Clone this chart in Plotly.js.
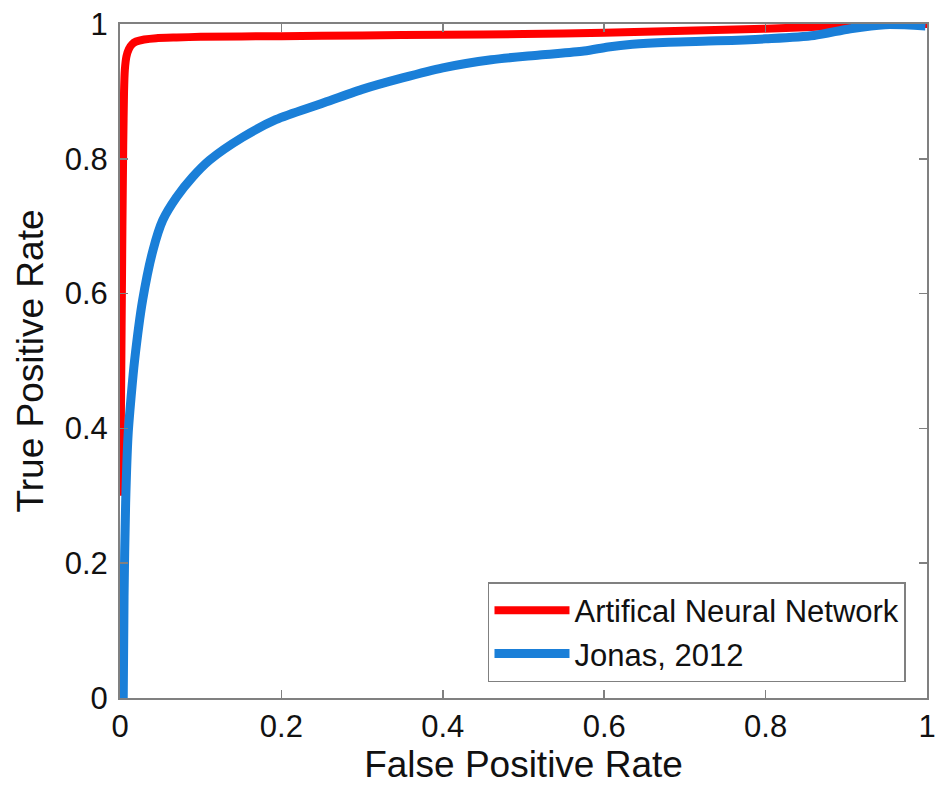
<!DOCTYPE html>
<html>
<head>
<meta charset="utf-8">
<script src="https://cdn.plot.ly/plotly-3.0.1.min.js"></script>
<style>html,body{margin:0;padding:0;background:#fff;}#chart{width:938px;height:801px;}</style>
</head>
<body>
<div id="chart"></div>
<script>
// Artificial Neural Network ROC curve
const annFPR = [0, 0.001, 0.002, 0.003, 0.004, 0.005, 0.006, 0.008, 0.011, 0.015, 0.02, 0.03, 0.045, 0.07, 0.1, 0.2, 0.3, 0.4, 0.5, 0.6, 0.7, 0.8, 0.85, 0.9, 0.95, 1];
const annTPR = [0.30, 0.40, 0.55, 0.70, 0.82, 0.90, 0.932, 0.952, 0.963, 0.970, 0.974, 0.977, 0.979, 0.980, 0.981, 0.982, 0.983, 0.984, 0.985, 0.987, 0.990, 0.993, 0.995, 0.998, 1.0, 1.0];
// Jonas, 2012 ROC curve
const jonasFPR = [0.004, 0.005, 0.007, 0.010, 0.014, 0.018, 0.028, 0.041, 0.053, 0.070, 0.090, 0.111, 0.152, 0.193, 0.25, 0.30, 0.35, 0.40, 0.46, 0.52, 0.575, 0.605, 0.635, 0.68, 0.74, 0.80, 0.86, 0.905, 0.948, 0.998];
const jonasTPR = [0, 0.15, 0.29, 0.39, 0.45, 0.50, 0.59, 0.665, 0.709, 0.743, 0.773, 0.798, 0.832, 0.858, 0.882, 0.903, 0.920, 0.935, 0.947, 0.954, 0.960, 0.966, 0.970, 0.973, 0.975, 0.978, 0.983, 0.993, 0.999, 0.997];
const tickVals = [0, 0.2, 0.4, 0.6, 0.8, 1];
const tickText = ['0', '0.2', '0.4', '0.6', '0.8', '1'];
const seriesNames = ['Artifical Neural Network', 'Jonas, 2012'];

const font = 'Liberation Sans, Arial, sans-serif';
const axisCommon = {
  range: [0, 1],
  tickvals: tickVals,
  ticktext: tickText,
  ticks: 'inside',
  ticklen: 8,
  tickwidth: 1.5,
  tickcolor: '#808080',
  showline: true,
  linecolor: '#808080',
  linewidth: 2,
  mirror: 'ticks',
  showgrid: false,
  zeroline: false,
  ticklabeloverflow: 'allow',
  tickfont: {family: font, size: 31, color: '#111'},
  automargin: false,
  fixedrange: true
};

const data = [
  {x: annFPR, y: annTPR, name: seriesNames[0], mode: 'lines', type: 'scatter',
   line: {color: '#ff0000', width: 8, shape: 'spline', smoothing: 0.4}},
  {x: jonasFPR, y: jonasTPR, name: seriesNames[1], mode: 'lines', type: 'scatter',
   line: {color: '#1a7fd8', width: 9, shape: 'spline', smoothing: 0.8}}
];

const layout = {
  width: 938, height: 801,
  margin: {l: 120, r: 11, t: 24, b: 103},
  paper_bgcolor: '#fff', plot_bgcolor: '#fff',
  showlegend: true,
  xaxis: Object.assign({}, axisCommon, {
    title: {text: 'False Positive Rate', font: {family: font, size: 37, color: '#111'}, standoff: 8}
  }),
  yaxis: Object.assign({}, axisCommon, {
    ticklabelstandoff: 4,
    title: {text: 'True Positive Rate', font: {family: font, size: 37, color: '#111'}, standoff: 10}
  }),
  legend: {
    x: 0.456, y: 0.172, xanchor: 'left', yanchor: 'top',
    bordercolor: '#808080', borderwidth: 1.5, bgcolor: '#fff',
    font: {family: font, size: 31, color: '#111'},
    itemwidth: 75, tracegroupgap: 0
  }
};

Plotly.newPlot('chart', data, layout, {displayModeBar: false, staticPlot: true});
</script>
</body>
</html>
